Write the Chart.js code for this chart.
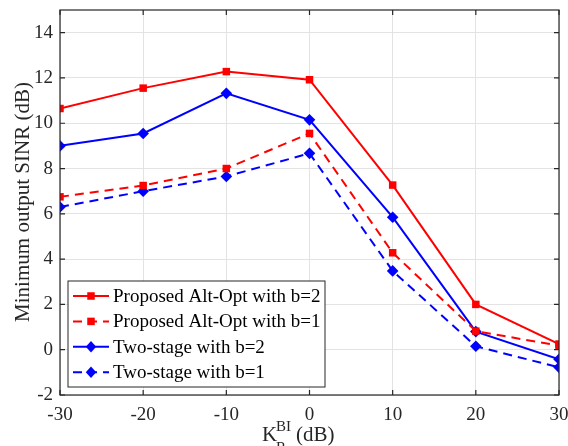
<!DOCTYPE html>
<html>
<head>
    <meta charset="utf-8" />
    <title>Minimum output SINR</title>
    <script src="https://cdn.jsdelivr.net/npm/chart.js"></script>
    <style>
        html, body { margin: 0; padding: 0; background: #fff; }
        #wrap { width: 568px; height: 446px; position: relative; }
    </style>
</head>
<body>
    <div id="wrap"><canvas id="sinrChart"></canvas></div>

    <script>
        // data
        const kValues = [-30, -20, -10, 0, 10, 20, 30];
        const xTicks = [-30, -20, -10, 0, 10, 20, 30];
        const yTicks = [-2, 0, 2, 4, 6, 8, 10, 12, 14];
        const altOptB2 = [10.65, 11.55, 12.28, 11.92, 7.27, 2.0, 0.25];
        const altOptB1 = [6.75, 7.25, 8.0, 9.55, 4.28, 0.82, 0.18];
        const twoStageB2 = [9.0, 9.55, 11.32, 10.15, 5.85, 0.8, -0.42];
        const twoStageB1 = [6.3, 7.0, 7.65, 8.67, 3.48, 0.15, -0.78];
        const seriesNames = ['Proposed Alt-Opt with b=2', 'Proposed Alt-Opt with b=1',
                             'Two-stage with b=2', 'Two-stage with b=1'];

        const serif = '"Liberation Serif", "DejaVu Serif", serif';
        const RED = '#ff0000', BLUE = '#0000ff';

        function pts(ys) { return kValues.map((x, i) => ({ x: x, y: ys[i] })); }

        function series(label, ys, color, dashed, marker) {
            return {
                label: label,
                data: pts(ys),
                borderColor: color,
                backgroundColor: color,
                borderWidth: 2,
                borderDash: dashed ? [9, 6] : [],
                pointStyle: marker,
                pointRadius: marker === 'rect' ? 5.3 : 5.8,
                pointBorderWidth: 0,
                fill: false,
                tension: 0
            };
        }

        // MATLAB-like frame, inward ticks, axis titles and legend box
        const matlabFrame = {
            id: 'matlabFrame',
            afterDraw(chart) {
                const c = chart.ctx, a = chart.chartArea;
                const xs = chart.scales.x, ys = chart.scales.y;
                c.save();
                c.strokeStyle = '#262626';
                c.lineWidth = 1.2;
                c.strokeRect(a.left, a.top, a.right - a.left, a.bottom - a.top);
                c.beginPath();
                xTicks.forEach(v => {
                    const p = xs.getPixelForValue(v);
                    c.moveTo(p, a.bottom); c.lineTo(p, a.bottom - 5);
                    c.moveTo(p, a.top); c.lineTo(p, a.top + 5);
                });
                yTicks.forEach(v => {
                    const p = ys.getPixelForValue(v);
                    c.moveTo(a.left, p); c.lineTo(a.left + 5, p);
                    c.moveTo(a.right, p); c.lineTo(a.right - 5, p);
                });
                c.stroke();

                // y title
                c.fillStyle = '#262626';
                c.font = '21px ' + serif;
                c.textAlign = 'center';
                c.textBaseline = 'alphabetic';
                c.save();
                c.translate(29, 202);
                c.rotate(-Math.PI / 2);
                c.fillText('Minimum output SINR (dB)', 0, 0);
                c.restore();

                // x title K_R^BI (dB)
                c.textAlign = 'left';
                c.font = '21px ' + serif;
                c.fillText('K', 262, 441);
                c.font = '15px ' + serif;
                c.fillText('BI', 276, 431);
                c.fillText('R', 276, 452);
                c.font = '21px ' + serif;
                c.fillText('(dB)', 296, 441);

                // legend
                const lx = 68, ly = 281, lw = 257, lh = 106;
                c.fillStyle = '#fff';
                c.fillRect(lx, ly, lw, lh);
                c.strokeStyle = '#262626';
                c.lineWidth = 1;
                c.strokeRect(lx, ly, lw, lh);
                chart.data.datasets.forEach((ds, i) => {
                    const yy = ly + 15 + i * 25.4;
                    c.strokeStyle = ds.borderColor;
                    c.lineWidth = 2;
                    c.setLineDash(ds.borderDash);
                    c.beginPath();
                    c.moveTo(lx + 5, yy); c.lineTo(lx + 41, yy);
                    c.stroke();
                    c.setLineDash([]);
                    c.fillStyle = ds.borderColor;
                    const mx = lx + 23;
                    if (ds.pointStyle === 'rect') {
                        c.fillRect(mx - 3.75, yy - 3.75, 7.5, 7.5);
                    } else {
                        c.beginPath();
                        c.moveTo(mx, yy - 5.8); c.lineTo(mx + 5.2, yy);
                        c.lineTo(mx, yy + 5.8); c.lineTo(mx - 5.2, yy);
                        c.closePath(); c.fill();
                    }
                    c.fillStyle = '#000';
                    c.font = '19px ' + serif;
                    c.textBaseline = 'middle';
                    c.fillText(seriesNames[i], lx + 45, yy + 1);
                });
                c.restore();
            }
        };

        const ctx = document.getElementById('sinrChart').getContext('2d');
        const sinrChart = new Chart(ctx, {
            type: 'line',
            data: {
                datasets: [
                    series(seriesNames[0], altOptB2, RED, false, 'rect'),
                    series(seriesNames[1], altOptB1, RED, true, 'rect'),
                    series(seriesNames[2], twoStageB2, BLUE, false, 'rectRot'),
                    series(seriesNames[3], twoStageB1, BLUE, true, 'rectRot')
                ]
            },
            options: {
                responsive: true,
                maintainAspectRatio: false,
                animation: false,
                layout: { padding: { top: 10, right: 9, left: 0, bottom: 0 } },
                plugins: { legend: { display: false }, tooltip: { enabled: false } },
                scales: {
                    x: {
                        type: 'linear',
                        min: -30, max: 30,
                        afterBuildTicks: s => { s.ticks = xTicks.map(v => ({ value: v })); },
                        afterFit: s => { s.height = 51; s.paddingLeft = 0; s.paddingRight = 0; },
                        grid: { color: '#e3e3e3', lineWidth: 1, drawTicks: false },
                        border: { display: false },
                        ticks: { color: '#262626', font: { family: serif, size: 19 }, padding: 9, maxRotation: 0 }
                    },
                    y: {
                        type: 'linear',
                        min: -2, max: 15,
                        afterBuildTicks: s => { s.ticks = yTicks.map(v => ({ value: v })); },
                        afterFit: s => { s.width = 60; s.paddingTop = 0; s.paddingBottom = 0; },
                        grid: { color: '#e3e3e3', lineWidth: 1, drawTicks: false },
                        border: { display: false },
                        ticks: { color: '#262626', font: { family: serif, size: 19 }, padding: 7 }
                    }
                }
            },
            plugins: [matlabFrame]
        });
    </script>
</body>
</html>
